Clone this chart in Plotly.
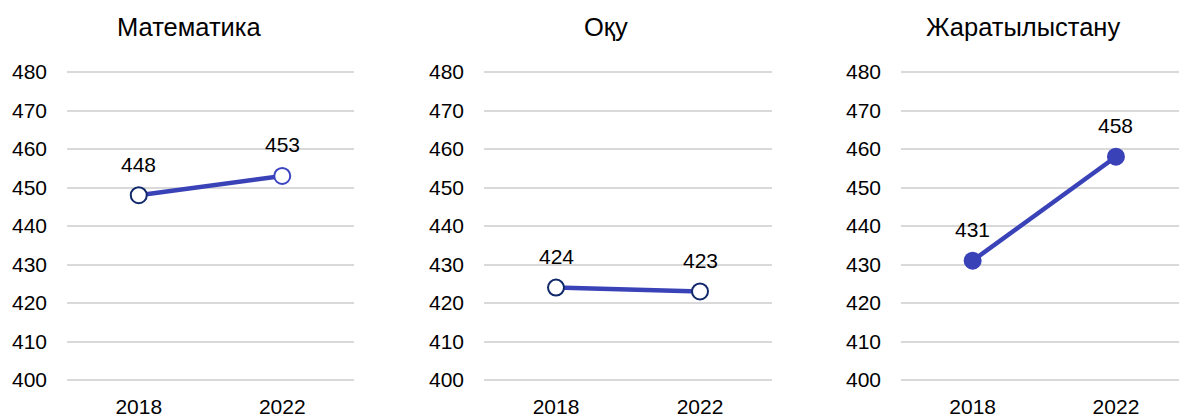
import plotly.graph_objects as go

years = ["2018", "2022"]
subjects = ["Математика", "Оқу", "Жаратылыстану"]
math_scores = [448, 453]
reading_scores = [424, 423]
science_scores = [431, 458]
y_ticks = [400, 410, 420, 430, 440, 450, 460, 470, 480]

series = [math_scores, reading_scores, science_scores]

W, H = 1179, 417
LINE = "#3a42b8"
NAVY = "#10296b"
marker_fill = [["white", "white"], ["white", "white"], [LINE, LINE]]
marker_edge = [[NAVY, "#3b44c0"], [NAVY, NAVY], [LINE, LINE]]

x_px = [(67, 354), (484, 772), (901, 1179)]
x_ranges = [[-0.5, 1.5], [-0.5, 1.5], [-0.5, 1.44]]
y_dom = [(H - 383.85) / H, (H - 68.15) / H]

font = "Liberation Sans, Arial, sans-serif"
fig = go.Figure()
annotations = []
for i, vals in enumerate(series):
    ax = "" if i == 0 else str(i + 1)
    fig.add_trace(go.Scatter(
        x=years, y=vals, mode="lines+markers",
        xaxis="x" + ax, yaxis="y" + ax,
        line=dict(color=LINE, width=4.5),
        marker=dict(size=16, color=marker_fill[i],
                    line=dict(color=marker_edge[i], width=2)),
        showlegend=False, hoverinfo="x+y",
    ))
    x0, x1 = x_px[i]
    fig.update_layout(**{
        "xaxis" + ax: dict(domain=[x0 / W, x1 / W], anchor="y" + ax,
                           type="category", range=x_ranges[i],
                           showgrid=False, showline=False, zeroline=False,
                           ticks="", ticklabelstandoff=8, automargin=False,
                           tickfont=dict(size=21, color="black", family=font)),
        "yaxis" + ax: dict(domain=y_dom, anchor="x" + ax,
                           range=[399, 481], tickvals=y_ticks,
                           showgrid=True, gridcolor="#d9d9d9", gridwidth=1.5,
                           showline=False, zeroline=False, ticks="",
                           ticklabelstandoff=19, automargin=False,
                           tickfont=dict(size=21, color="black", family=font)),
    })
    for k, v in enumerate(vals):
        annotations.append(dict(x=k, y=v, xref="x" + ax, yref="y" + ax,
                                text=str(v), showarrow=False, yshift=31,
                                font=dict(size=21, color="black", family=font)))
    annotations.append(dict(x=(x0 + 122) / W, y=(H - 27) / H,
                            xref="paper", yref="paper", text=subjects[i],
                            showarrow=False, xanchor="center", yanchor="middle",
                            font=dict(size=25.5, color="black", family=font)))

fig.update_layout(width=W, height=H, margin=dict(l=0, r=0, t=0, b=0),
                  paper_bgcolor="white", plot_bgcolor="white",
                  annotations=annotations)
fig.write_html("out.html", config={"displayModeBar": False},
               post_script="document.body.style.margin='0';document.body.style.overflow='hidden';")
